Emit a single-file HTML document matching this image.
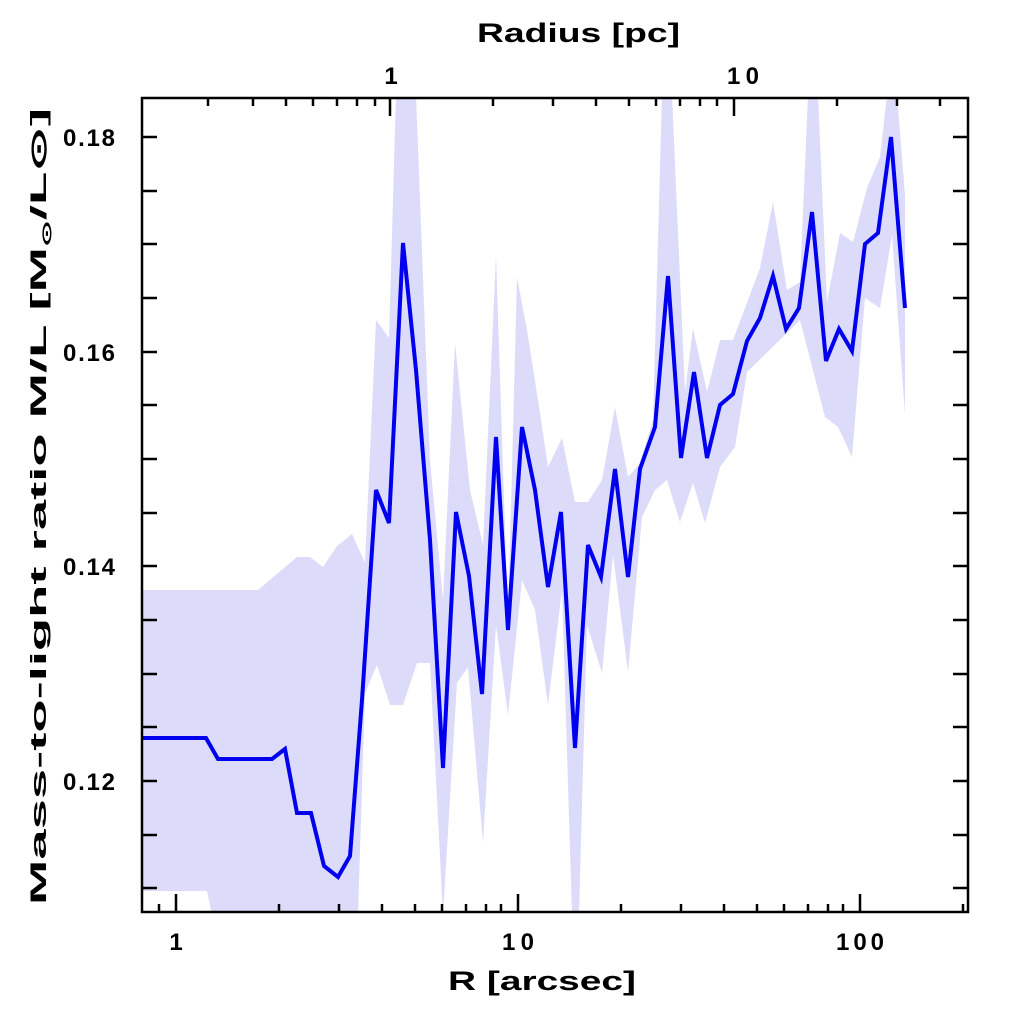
<!DOCTYPE html>
<html><head><style>body{margin:0;background:#fff}svg{display:block}</style></head><body>
<svg width="1024" height="1024" xmlns="http://www.w3.org/2000/svg" font-family="Liberation Sans, sans-serif" font-weight="bold">
<defs><clipPath id="c"><rect x="142" y="98" width="826" height="814"/></clipPath></defs>
<g clip-path="url(#c)">
<polygon fill="#dcdcfa" points="142,590 258,590 297,557 310,557 323,567 337,546 352,534 365,563 376,320 389,338 396,95 416,95 430,460 443,600 455,343 470,490 483,545 496,255 508,620 517,277 527,330 540,413 548,467 562,438 575,502 588,502 602,480 615,407 628,477 640,463 653,420 662,95 672,95 685,392 693,328 707,392 720,340 733,340 760,268 773,202 787,290 800,282 808,95 818,95 827,302 840,233 853,242 867,188 880,157 887,95 897,95 905,195 905,415 892,235 880,308 865,298 852,457 838,427 825,417 800,320 787,333 747,372 735,447 720,467 705,523 693,483 680,522 667,480 655,490 642,517 628,672 613,555 602,673 587,625 579,915 572,915 562,590 548,705 535,610 522,580 508,715 496,625 483,843 468,667 457,683 443,915 430,663 417,663 403,705 390,705 377,665 365,693 358,915 212,915 207,891 142,891"/>
<polyline fill="none" stroke="#0000ee" stroke-width="4" stroke-linejoin="miter" points="142,738 206,738 218,759 272,759 285,749 297,813 311,813 324,866 338,877 350,856 362,700 376,490 389,523 403,243 416,370 430,540 443,768 456,512 469,576 482,694 496,437 508,630 522,427 535,490 548,587 561,512 575,748 588,545 601,577 615,469 628,577 640,469 655,427 668,276 681,458 694,372 707,458 720,405 733,394 747,341 760,318 773,276 786,329 799,308 812,212 826,361 839,329 852,351 865,244 878,233 891,137 905,308"/>
</g>
<rect x="142" y="98" width="826" height="814" fill="none" stroke="#000" stroke-width="2.5"/>
<g stroke="#000" stroke-width="2.5">
<path d="M142 137h15M142 191h15M142 244h15M142 298h15M142 352h15M142 405h15M142 459h15M142 513h15M142 566h15M142 620h15M142 674h15M142 727h15M142 781h15M142 835h15M142 888h15"/>
<path d="M968 137h-15M968 191h-15M968 244h-15M968 298h-15M968 352h-15M968 405h-15M968 459h-15M968 513h-15M968 566h-15M968 620h-15M968 674h-15M968 727h-15M968 781h-15M968 835h-15M968 888h-15"/>
<path d="M176 912v-18M518 912v-18M860 912v-18M159 912v-8M279 912v-8M339 912v-8M382 912v-8M415 912v-8M442 912v-8M466 912v-8M486 912v-8M501 912v-8M621 912v-8M681 912v-8M724 912v-8M757 912v-8M784 912v-8M808 912v-8M828 912v-8M843 912v-8M963 912v-8"/>
<path d="M390 98v18M734 98v18M208 98v8M253 98v8M286 98v8M313 98v8M337 98v8M357 98v8M375 98v8M493 98v8M553 98v8M596 98v8M629 98v8M656 98v8M680 98v8M700 98v8M717 98v8M837 98v8M897 98v8M940 98v8"/>
</g>
<g font-size="24" text-anchor="end">
<text x="115" y="146" textLength="52">0.18</text><text x="115" y="361" textLength="52">0.16</text><text x="115" y="575" textLength="52">0.14</text><text x="115" y="790" textLength="52">0.12</text>
</g>
<g font-size="24" text-anchor="middle">
<text x="176" y="950">1</text><text x="518" y="950" textLength="32">10</text><text x="860" y="950" textLength="48">100</text>
<text x="391" y="84">1</text><text x="743" y="84" textLength="32">10</text>
</g>
<text x="477" y="42" font-size="27" textLength="203" lengthAdjust="spacingAndGlyphs">Radius [pc]</text>
<text x="448" y="990" font-size="27" textLength="188" lengthAdjust="spacingAndGlyphs">R [arcsec]</text>
<text transform="translate(46,905) rotate(-90)" font-size="22" textLength="797" lengthAdjust="spacingAndGlyphs">Mass-to-light ratio M/L [M<tspan font-size="13" dy="5">⊙</tspan><tspan dy="-5">/L⊙]</tspan></text>
</svg>
</body></html>
